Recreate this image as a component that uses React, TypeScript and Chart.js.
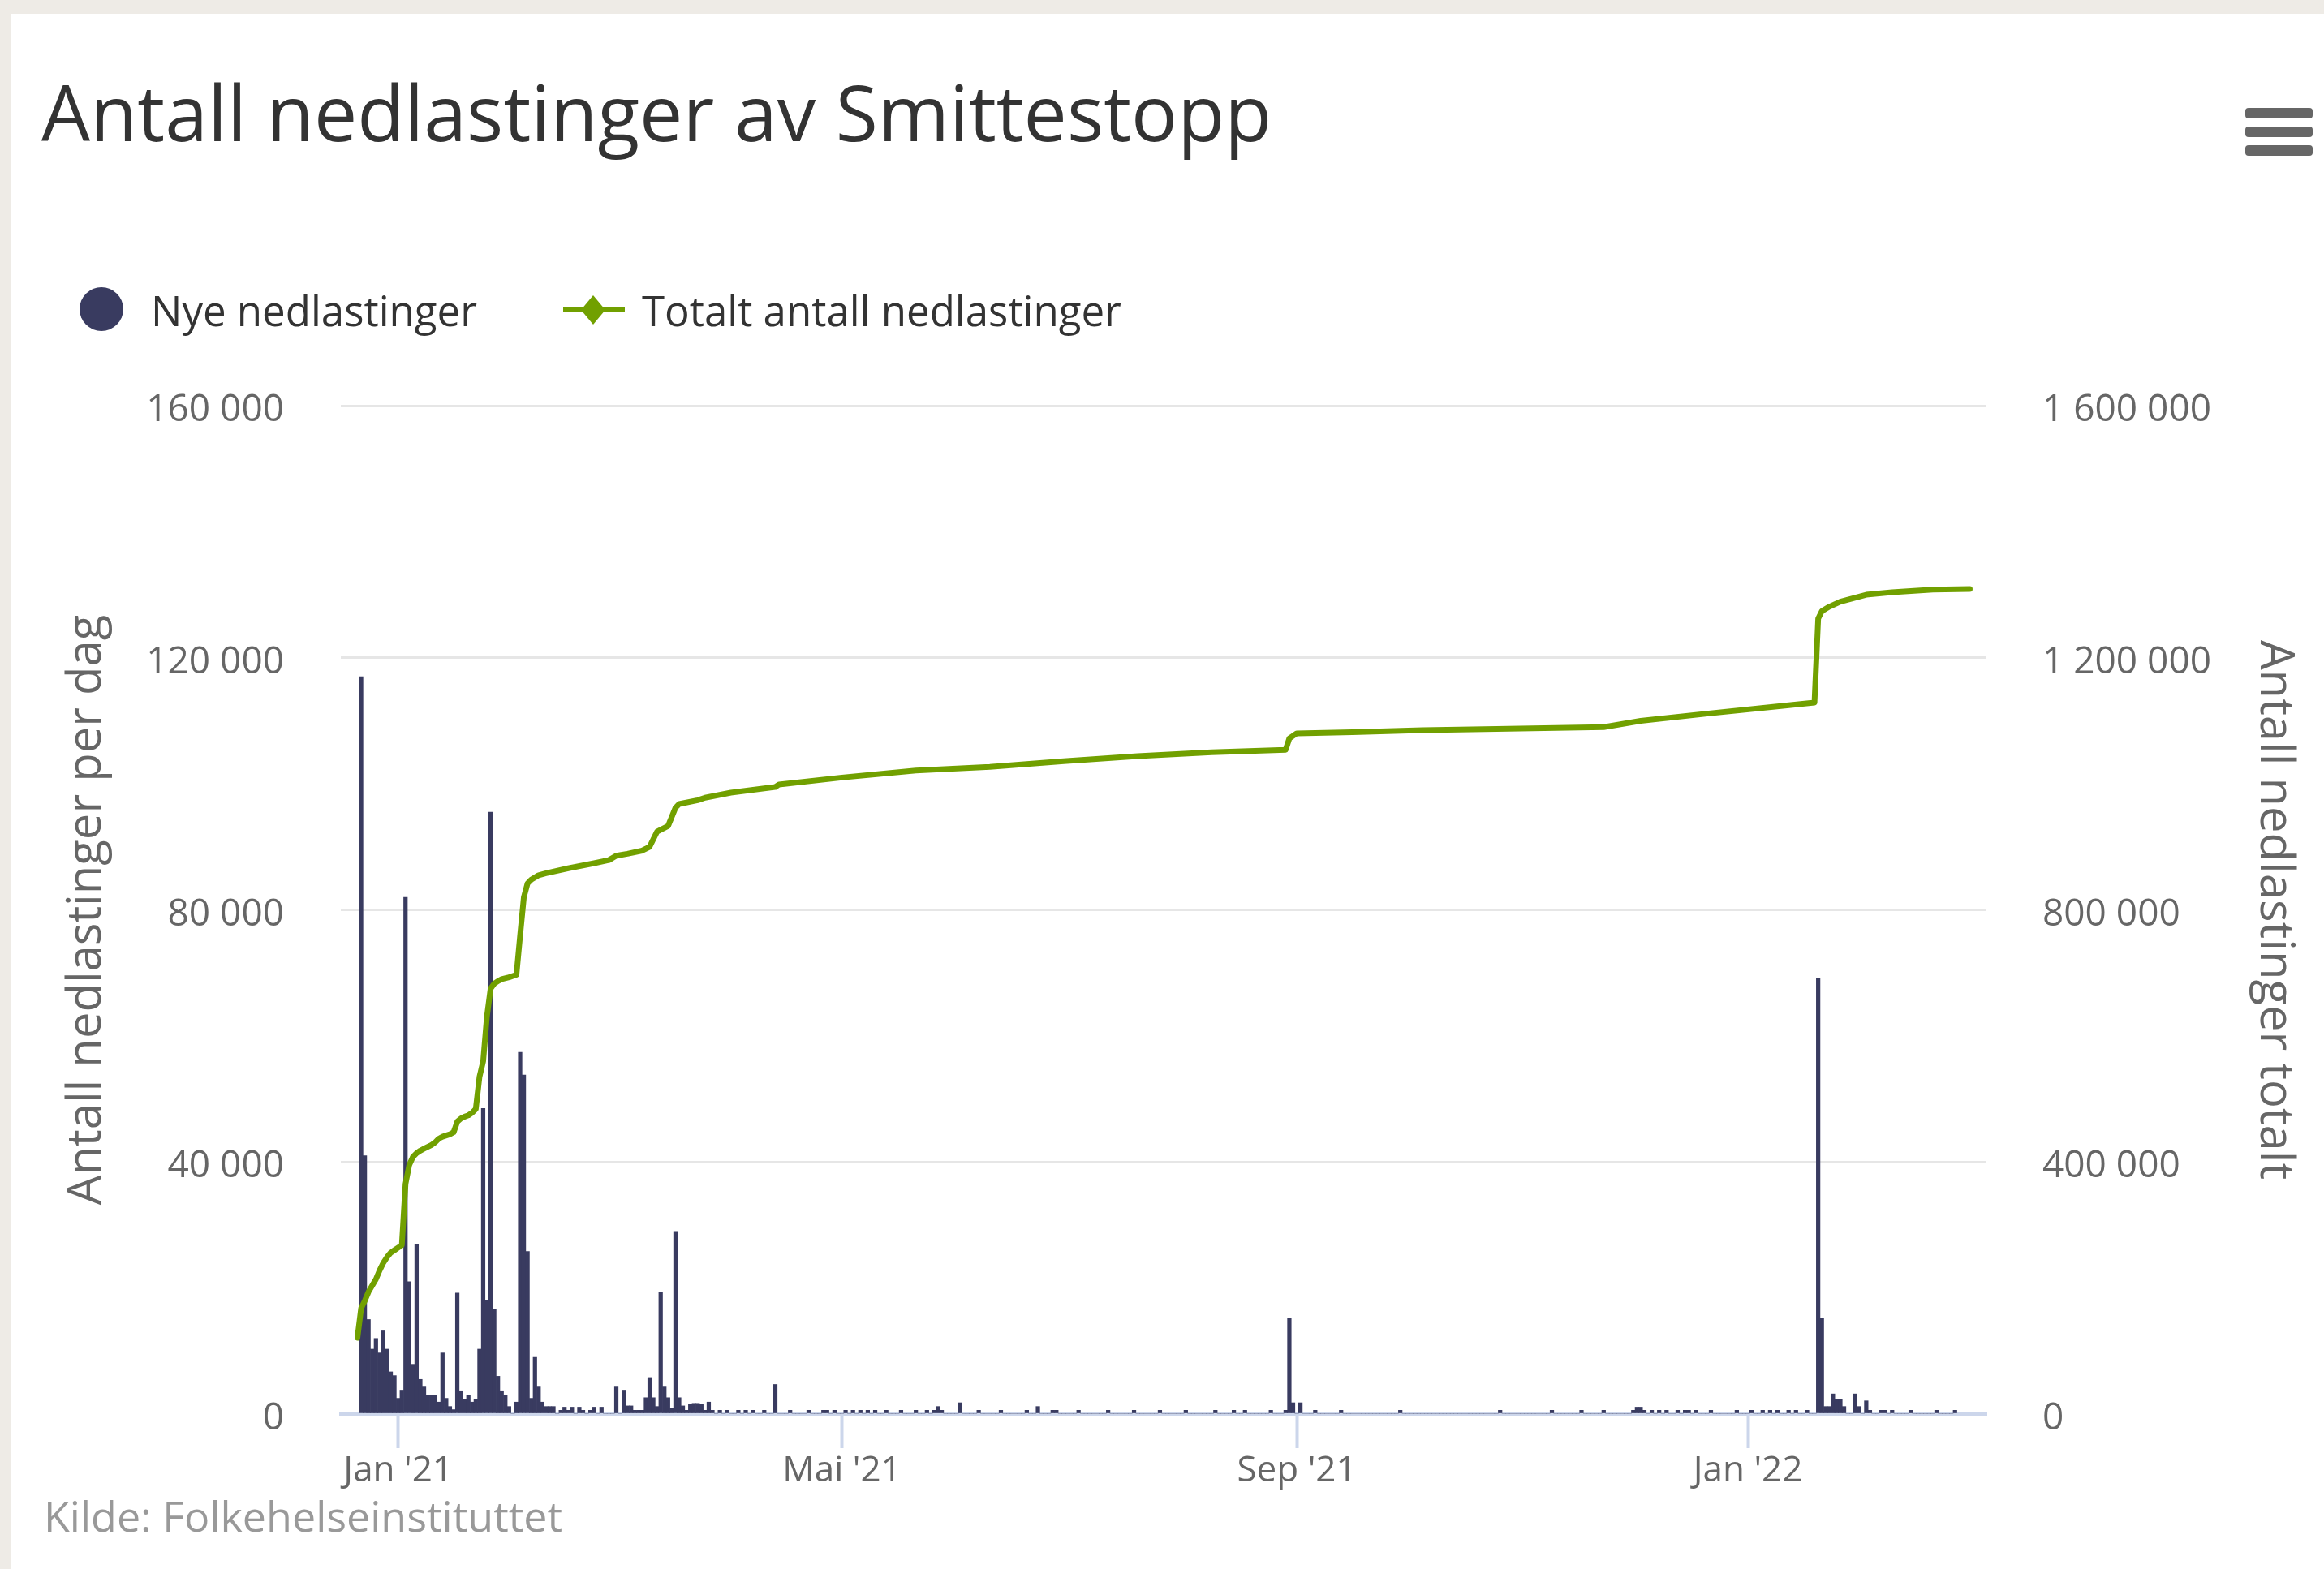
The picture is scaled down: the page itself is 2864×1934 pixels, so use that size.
import { useEffect, useRef } from 'react';
import { Chart, registerables } from 'chart.js';

Chart.register(...registerables);

const W = 2864;
const H = 1934;
const FONT = '"Open Sans", "Noto Sans", sans-serif';
const NAVY = '#393b60';
const GREEN = '#71a000';

// Day numbers are days relative to 1 Jan 2021 (0 = 1 Jan 2021)
const FIRST_DAY = -10; // 22 Dec 2020

// New downloads per day, starting at FIRST_DAY
const dailyNew = [
  117000, 41000, 15000, 10300, 12000, 9700, 13200, 10300, 6700, 6100,
  2500, 3800, 82000, 21000, 7900, 27000, 5500, 4300, 3000, 3000,
  3000, 1900, 9700, 2500, 1200, 700, 19200, 3700, 2400, 3000,
  1900, 2400, 10300, 48500, 18000, 95500, 16600, 6000, 3700, 3000,
  1200, 0, 1900, 57400, 53800, 25800, 2500, 9000, 4300, 1900,
  1200, 1200, 1200, 0, 600, 1100, 600, 1100, 0, 1100,
  600, 0, 600, 1100, 0, 1100, 0, 0, 0, 4300,
  0, 3800, 1300, 1300, 600, 600, 600, 2600, 5800, 2600,
  1200, 19300, 4300, 2600, 900, 29000, 2600, 1300, 600, 1500,
  1700, 1700, 1500, 600, 1900, 600, 0, 600, 0, 600,
  0, 0, 600, 0, 600, 0, 600, 0, 0, 600,
  0, 0, 4700, 0, 0, 0, 600, 0, 0, 0,
  0, 600, 0, 0, 0, 600, 600, 0, 600, 0,
  0, 600, 0, 600, 0, 600, 0, 600, 0, 600,
  0, 0, 600, 0, 0, 0, 600, 0, 0, 0,
  600, 0, 0, 600, 0, 600, 1200, 600, 0, 0,
  0, 0, 1800, 0, 0, 0, 0, 600, 0, 0,
  0, 0, 0, 600, 0, 0, 0, 0, 0, 0,
  600, 0, 0, 1200, 0, 0, 0, 600, 600, 0,
  0, 0, 0, 0, 600, 0, 0, 0, 0, 0,
  0, 0, 600, 0, 0, 0, 0, 0, 0, 600,
  0, 0, 0, 0, 0, 0, 600, 0, 0, 0,
  0, 0, 0, 600, 0, 0, 0, 0, 0, 0,
  0, 600, 0, 0, 0, 0, 600, 0, 0, 600,
  0, 0, 0, 0, 0, 0, 600, 0, 0, 0,
  600, 15200, 1800, 0, 1800, 0, 0, 0, 600, 0,
  0, 0, 0, 0, 0, 600, 0, 0, 0, 0,
  0, 0, 0, 0, 0, 0, 0, 0, 0, 0,
  0, 600, 0, 0, 0, 0, 0, 0, 0, 0,
  0, 0, 0, 0, 0, 0, 0, 0, 0, 0,
  0, 0, 0, 0, 0, 0, 0, 0, 600, 0,
  0, 0, 0, 0, 0, 0, 0, 0, 0, 0,
  0, 0, 600, 0, 0, 0, 0, 0, 0, 0,
  600, 0, 0, 0, 0, 0, 600, 0, 0, 0,
  0, 0, 0, 0, 600, 1100, 1100, 600, 0, 600,
  0, 600, 0, 600, 0, 0, 600, 0, 600, 600,
  0, 600, 0, 0, 0, 600, 0, 0, 0, 0,
  0, 0, 600, 0, 0, 0, 600, 0, 0, 600,
  0, 600, 0, 600, 0, 0, 600, 0, 600, 0,
  0, 600, 0, 0, 69200, 15200, 1200, 1200, 3200, 2400,
  2400, 1200, 0, 0, 3200, 1200, 0, 2100, 600, 0,
  0, 600, 600, 0, 600, 0, 0, 0, 0, 600,
  0, 0, 0, 0, 0, 0, 600, 0, 0, 0,
  0, 600,
];

// Cumulative downloads (read at selected days)
const totalDays = [
  -11, -10, -9, -8, -7, -6, -5, -4, -3, -2, -1, 0, 1, 2, 3, 4, 5, 6, 7, 8,
  9, 10, 11, 12, 13, 14, 15, 16, 17, 18, 19, 20, 21, 22, 23, 24, 25, 26, 27, 28,
  30, 32, 33, 34, 35, 36, 38, 40, 46, 53, 57, 59, 62, 66, 68, 70,
  73, 75, 76, 81, 83, 90, 102, 103, 120, 140, 160, 180, 200, 220, 240, 241,
  243, 258, 277, 297, 326, 336, 355, 375, 383, 384, 385, 387, 390, 397, 404, 415, 425,
];
const totalValues = [
  121000, 168000, 180000, 194000, 204000, 214000, 228000, 240000, 249000, 256000,
  260000, 264000, 268000, 365000, 395000, 408000, 414000, 418000, 421000, 424000,
  427000, 431000, 437000, 440000, 442000, 444000, 447000, 464000, 469000, 472000,
  474000, 478000, 484000, 535000, 560000, 630000, 675000, 683000, 687000, 690000,
  693000, 697000, 760000, 820000, 842000, 848000, 855000, 858000, 866000, 874000,
  879000, 886000, 889000, 894000, 900000, 924000,
  933000, 962000, 968000, 974000, 978000, 986000, 995000, 999000, 1010000, 1021000,
  1027000, 1036000, 1044000, 1050000, 1054000, 1072000,
  1080000, 1082000, 1085000, 1087000, 1090000, 1100000, 1112000, 1124000, 1129000,
  1262000, 1274000, 1281000, 1289000, 1300000, 1304000, 1308000, 1309000,
];

const xTickDays = [0, 120, 243, 365];
const xTickLabels = ["Jan '21", "Mai '21", "Sep '21", "Jan '22"];
const leftTicks = [0, 40000, 80000, 120000, 160000];
const rightTicks = [0, 400000, 800000, 1200000, 1600000];
const xRange = [-15.5, 429.5];

const TITLE = 'Antall nedlastinger av Smittestopp';
const SERIES_NEW = 'Nye nedlastinger';
const SERIES_TOTAL = 'Totalt antall nedlastinger';
const LEFT_AXIS_TITLE = 'Antall nedlastinger per dag';
const RIGHT_AXIS_TITLE = 'Antall nedlastinger totalt';
const CREDIT = 'Kilde: Folkehelseinstituttet';

const fmt = (v: number) => String(v).replace(/\B(?=(\d{3})+(?!\d))/g, ' ');

const chromePlugin = {
  id: 'chrome',
  beforeDraw(chart: any) {
    const ctx = chart.ctx as CanvasRenderingContext2D;
    ctx.save();
    ctx.fillStyle = '#eeebe6';
    ctx.fillRect(0, 0, W, H);
    ctx.fillStyle = '#ffffff';
    ctx.fillRect(13, 17, W - 13, H - 17);
    ctx.restore();
  },
  afterDraw(chart: any) {
    const ctx = chart.ctx as CanvasRenderingContext2D;
    const ds = chart.data.datasets;
    ctx.save();
    ctx.textBaseline = 'alphabetic';
    ctx.textAlign = 'left';
    // title
    ctx.fillStyle = '#333333';
    ctx.font = `95px ${FONT}`;
    ctx.fillText(TITLE, 51, 174);
    // legend
    ctx.fillStyle = ds[1].backgroundColor;
    ctx.beginPath();
    ctx.arc(125, 381, 27, 0, Math.PI * 2);
    ctx.fill();
    ctx.fillStyle = '#333333';
    ctx.font = `51px ${FONT}`;
    ctx.fillText(SERIES_NEW, 186, 402);
    ctx.strokeStyle = ds[0].borderColor;
    ctx.lineWidth = 6;
    ctx.beginPath();
    ctx.moveTo(694, 382);
    ctx.lineTo(770, 382);
    ctx.stroke();
    ctx.fillStyle = ds[0].borderColor;
    ctx.beginPath();
    ctx.moveTo(731, 364);
    ctx.lineTo(746, 382);
    ctx.lineTo(731, 400);
    ctx.lineTo(716, 382);
    ctx.closePath();
    ctx.fill();
    ctx.fillStyle = '#333333';
    ctx.fillText(SERIES_TOTAL, 791, 402);
    // credits
    ctx.fillStyle = '#999999';
    ctx.font = `52px ${FONT}`;
    ctx.fillText(CREDIT, 54, 1888);
    // menu icon
    ctx.fillStyle = '#666666';
    [133, 156, 179].forEach((y) => {
      ctx.beginPath();
      ctx.roundRect(2767, y, 83, 13, 4);
      ctx.fill();
    });
    ctx.restore();
  },
};

export default function App() {
  const ref = useRef<HTMLCanvasElement>(null);
  useEffect(() => {
    document.body.style.margin = '0';
    document.body.style.background = '#ffffff';
    const barData = dailyNew.map((v, i) => ({ x: FIRST_DAY + i, y: v }));
    const lineData = totalDays.map((d, i) => ({ x: d, y: totalValues[i] }));
    const chart = new Chart(ref.current as HTMLCanvasElement, {
      type: 'bar',
      data: {
        datasets: [
          {
            type: 'line',
            label: SERIES_TOTAL,
            data: lineData,
            yAxisID: 'y1',
            borderColor: GREEN,
            backgroundColor: GREEN,
            borderWidth: 7,
            pointRadius: 0,
            tension: 0,
            borderCapStyle: 'round',
            borderJoinStyle: 'round',
            fill: false,
            order: 0,
          } as any,
          {
            type: 'bar',
            label: SERIES_NEW,
            data: barData,
            yAxisID: 'y',
            backgroundColor: NAVY,
            borderWidth: 0,
            barPercentage: 1,
            categoryPercentage: 1,
            order: 1,
          } as any,
        ],
      },
      options: {
        animation: false,
        responsive: false,
        devicePixelRatio: 1,
        layout: { padding: { top: 500, left: 0, right: 0, bottom: 0 } },
        plugins: { legend: { display: false }, tooltip: { enabled: false } },
        scales: {
          x: {
            type: 'linear',
            min: xRange[0],
            max: xRange[1],
            offset: false,
            z: 1,
            afterBuildTicks: (s: any) => {
              s.ticks = xTickDays.map((v) => ({ value: v }));
            },
            afterFit: (s: any) => {
              s.height = 191;
            },
            ticks: {
              autoSkip: false,
              maxRotation: 0,
              padding: 2,
              color: '#666666',
              font: { family: FONT, size: 44 },
              callback: (v: any) => {
                const i = xTickDays.indexOf(Number(v));
                return i >= 0 ? xTickLabels[i] : '';
              },
            },
            grid: {
              display: true,
              offset: false,
              drawOnChartArea: false,
              drawTicks: true,
              tickLength: 42,
              tickColor: '#ccd6eb',
              tickWidth: 4,
            },
            border: { display: true, color: '#ccd6eb', width: 5 },
          },
          y: {
            position: 'left',
            min: 0,
            max: 160000,
            afterBuildTicks: (s: any) => {
              s.ticks = leftTicks.map((v) => ({ value: v }));
            },
            afterFit: (s: any) => {
              s.width = 420;
            },
            ticks: {
              padding: 70,
              labelOffset: 6,
              color: '#666666',
              font: { family: FONT, size: 46 },
              callback: (v: any) => fmt(Number(v)),
            },
            grid: {
              color: (c: any) => (c.tick && c.tick.value === 0 ? 'rgba(0,0,0,0)' : '#e6e6e6'),
              lineWidth: 3,
              drawTicks: false,
            },
            border: { display: false },
            title: {
              display: true,
              text: LEFT_AXIS_TITLE,
              color: '#666666',
              font: { family: FONT, size: 58 },
              padding: { top: 73, bottom: 0 },
            },
          },
          y1: {
            position: 'right',
            min: 0,
            max: 1600000,
            afterBuildTicks: (s: any) => {
              s.ticks = rightTicks.map((v) => ({ value: v }));
            },
            afterFit: (s: any) => {
              s.width = 416;
            },
            ticks: {
              padding: 69,
              labelOffset: 6,
              color: '#666666',
              font: { family: FONT, size: 46 },
              callback: (v: any) => fmt(Number(v)),
            },
            grid: { display: false, drawTicks: false },
            border: { display: false },
            title: {
              display: true,
              text: RIGHT_AXIS_TITLE,
              color: '#666666',
              font: { family: FONT, size: 58 },
              padding: { top: 27, bottom: 0 },
            },
          },
        },
      },
      plugins: [chromePlugin],
    } as any);
    return () => chart.destroy();
  }, []);
  return (
    <canvas
      ref={ref}
      width={W}
      height={H}
      style={{ display: 'block', width: W, height: H }}
    />
  );
}
